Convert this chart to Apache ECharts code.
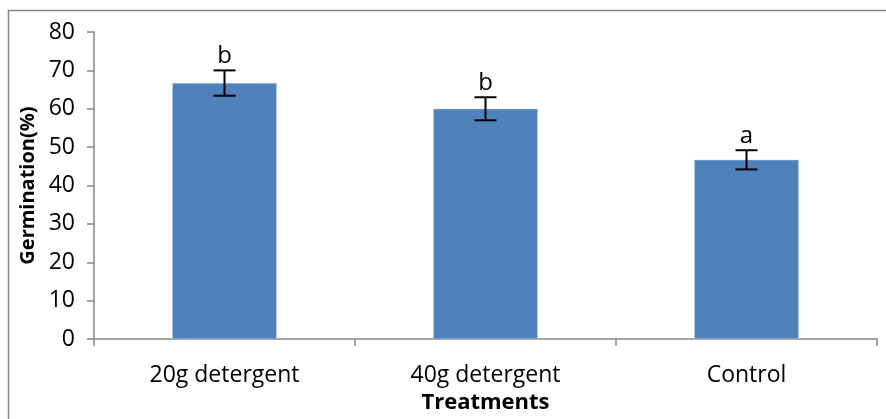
<!DOCTYPE html>
<html><head><meta charset="utf-8">
<script src="https://cdn.jsdelivr.net/npm/echarts@6/dist/echarts.min.js"></script>
<style>html,body{margin:0;padding:0;background:#fff}#c{width:886px;height:419px}</style>
</head><body><div id="c"></div>
<script>
const categories = ['20g detergent', '40g detergent', 'Control'];
const means = [66.7, 60.0, 46.7];
const errors = [3.3, 3.0, 2.5];
const letters = ['b', 'b', 'a'];
const yTicks = [0, 10, 20, 30, 40, 50, 60, 70, 80];

const chart = echarts.init(document.getElementById('c'));
const font = '"Open Sans", "Liberation Sans", sans-serif';
chart.setOption({
  animation: false,
  graphic: [{type: 'rect', shape: {x: 8.5, y: 10.5, width: 900, height: 500}, style: {fill: 'none', stroke: '#868686', lineWidth: 1.5}, z: -1}],
  grid: {left: 94, right: 9, top: 32, bottom: 78},
  xAxis: {
    type: 'category', data: categories,
    name: 'Treatments', nameLocation: 'middle', nameGap: 51,
    nameTextStyle: {fontFamily: font, fontWeight: 'bold', fontSize: 22, color: '#000'},
    axisLine: {lineStyle: {color: '#868686', width: 1.5}},
    axisTick: {show: true, length: 7, lineStyle: {color: '#868686', width: 1.5}},
    axisLabel: {fontFamily: font, fontSize: 23, color: '#000', margin: 25}
  },
  yAxis: {
    type: 'value', min: yTicks[0], max: yTicks[yTicks.length - 1], interval: 10,
    name: 'Germination(%)', nameLocation: 'middle', nameGap: 54,
    nameTextStyle: {fontFamily: font, fontWeight: 'bold', fontSize: 20, color: '#000'},
    axisLine: {show: true, lineStyle: {color: '#868686', width: 1.5}},
    axisTick: {show: true, length: 7, lineStyle: {color: '#868686', width: 1.5}},
    splitLine: {show: false},
    axisLabel: {fontFamily: font, fontSize: 23, color: '#000', margin: 19}
  },
  series: [
    {type: 'bar', data: means, barWidth: '40%', itemStyle: {color: '#4F81BD', borderColor: '#B9CDE5', borderWidth: 0.5}},
    {
      type: 'custom', z: 10,
      data: means.map((m, i) => [i, m, errors[i], letters[i]]),
      renderItem: function (params, api) {
        const i = api.value(0), m = api.value(1), e = api.value(2);
        const hi = api.coord([i, m + e]);
        const lo = api.coord([i, m - e]);
        const cx = hi[0], w = 11;
        return {type: 'group', children: [
          {type: 'line', shape: {x1: cx, y1: hi[1], x2: cx, y2: lo[1]}, style: {stroke: '#000', lineWidth: 2}},
          {type: 'line', shape: {x1: cx - w, y1: hi[1], x2: cx + w, y2: hi[1]}, style: {stroke: '#000', lineWidth: 2}},
          {type: 'line', shape: {x1: cx - w, y1: lo[1], x2: cx + w, y2: lo[1]}, style: {stroke: '#000', lineWidth: 2}},
          {type: 'text', style: {text: letters[params.dataIndex], x: cx, y: hi[1] - 2, textAlign: 'center', textVerticalAlign: 'bottom', font: '24px ' + font, fill: '#000'}}
        ]};
      }
    }
  ]
});
</script></body></html>
